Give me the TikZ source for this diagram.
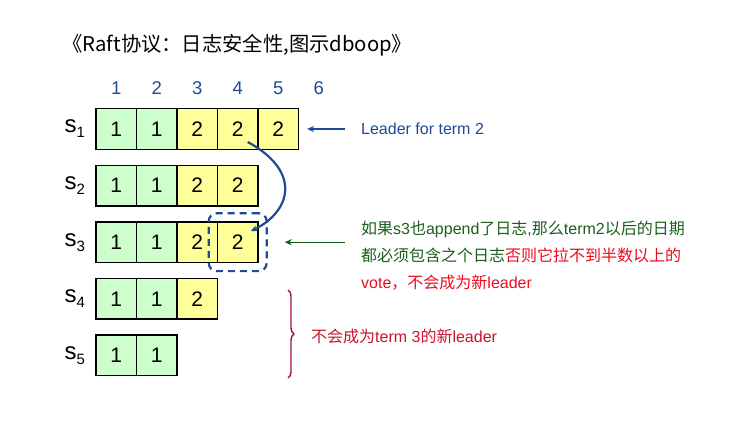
\documentclass[tikz,border=0pt]{standalone}
\usepackage{fontspec}
\setmainfont{Liberation Sans}
\newfontfamily\cjk{Noto Sans CJK SC}
\usetikzlibrary{positioning,fit,decorations.pathreplacing,arrows.meta}
\definecolor{t1}{HTML}{CCFFCC}
\definecolor{t2}{HTML}{FFFF99}
\definecolor{navy}{HTML}{1F4A94}
\definecolor{dgreen}{HTML}{1D5E1D}
\definecolor{agreen}{HTML}{0E5A12}
\definecolor{vred}{HTML}{EE0A1E}
\definecolor{cred}{HTML}{C8142E}
\definecolor{bred}{HTML}{A3112F}
\begin{document}
\begin{tikzpicture}[x=1pt,y=-1pt,>={Stealth[length=7pt,width=6pt]},
	cell/.style={draw,line width=1.4pt,minimum width=40.5pt,minimum height=40.5pt,inner sep=0pt,font=\fontsize{21}{21}\selectfont},
	idx/.style={text=navy,font=\fontsize{18.5}{18.5}\selectfont},
	lbl/.style={font=\fontsize{16}{19}\selectfont,inner sep=0pt}]
	\useasboundingbox (0,0) rectangle (733,427);
	\node[anchor=west,inner sep=0pt] (title) at (62,45) {\fontsize{20.3}{20.3}\selectfont\cjk 《Raft协议：日志安全性,图示dboop》};
	\foreach \c in {1,...,6}
		\node[idx] (n\c) at ({116.2+40.5*(\c-1)},88) {\c};
	\foreach \r/\lst in {1/{1,1,2,2,2},2/{1,1,2,2},3/{1,1,2,2},4/{1,1,2},5/{1,1}}{
		\foreach \v [count=\c] in \lst
			\node[cell,fill=t\v] (c\r\c) at ({116.2+40.5*(\c-1)},{129+56.6*(\r-1)}) {\v};
		\node[left=10pt of c\r1,inner sep=0pt] (s\r) {\fontsize{24}{24}\selectfont s\raisebox{-5pt}{\fontsize{15}{15}\selectfont\r}};
	}
	\node[lbl,anchor=west,text=navy] (leader) at (361,129) {Leader for term 2};
	\draw[->,navy,line width=1.3pt] ([xshift=-16pt]leader.west) -- ([xshift=8pt]c15.east);
	\node[draw=navy,dashed,dash pattern=on 7pt off 5pt,line width=2.2pt,rounded corners=8pt,fit=(c34),inner sep=8pt] (hl) {};
	\draw[->,navy,line width=2.2pt] ([shift={(10,13)}]c14.center) .. controls (303,172) and (290,212) .. ([shift={(13,-11)}]c34.center);
	\node[lbl,anchor=west,align=left,text=dgreen] (why) at (361,256) {{\cjk 如果}s3{\cjk 也}append{\cjk 了日志},{\cjk 那么}term2{\cjk 以后的日期}\\[8pt]
		{\cjk 都必须包含之个日志}\textcolor{vred}{\cjk 否则它拉不到半数以上的}\\[8pt]
		\textcolor{vred}{vote{\cjk ，不会成为新}leader}};
	\draw[->,agreen,line width=1.3pt] ([xshift=-16pt]why.west |- hl.east) -- ([xshift=17pt]hl.east);
	\coordinate (btop) at (288,290);
	\coordinate (bbot) at (288,378);
	\draw[bred,line width=1.4pt,decorate,decoration={brace,amplitude=6pt}] (btop) -- (bbot);
	\node[lbl,anchor=west,text=cred] (nolead) at (311,336) {{\cjk 不会成为}term 3{\cjk 的新}leader};
\end{tikzpicture}
\end{document}
